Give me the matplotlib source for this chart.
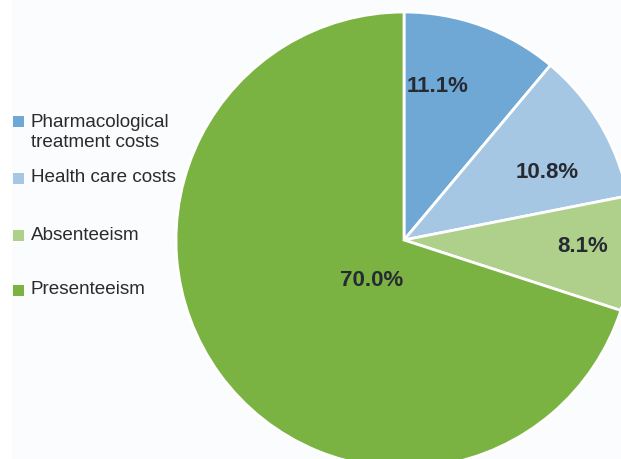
import matplotlib
matplotlib.use("Agg")
import matplotlib.pyplot as plt
from matplotlib.patches import Rectangle

categories = ["Pharmacological\ntreatment costs", "Health care costs", "Absenteeism", "Presenteeism"]
values = [11.1, 10.8, 8.1, 70.0]
pct_labels = ["11.1%", "10.8%", "8.1%", "70.0%"]
colors = ["#6fa7d5", "#a6c7e3", "#afd08a", "#7ab342"]

W, H = 621, 459
fig = plt.figure(figsize=(W / 100, H / 100), dpi=100)
fig.patch.set_facecolor("white")
ax = fig.add_axes([0, 0, 1, 1])

cx, cy, R = 404, H - 240, 228
wedges, _ = ax.pie(values, colors=colors, startangle=90, counterclock=False,
                   center=(cx, cy), radius=R,
                   wedgeprops=dict(edgecolor="white", linewidth=2))
ax.set_xlim(0, W)
ax.set_ylim(0, H)
ax.set_aspect("equal")
ax.axis("off")
# light background panel
ax.add_patch(Rectangle((12, 0), W - 12, H, facecolor="#fbfcfe", edgecolor="none", zorder=-5))

# percentage labels (pixel positions)
label_xy = [(438, 87), (547, 172), (583, 247), (372, 280)]
for txt, (x, y) in zip(pct_labels, label_xy):
    ax.text(x, H - y, txt, ha="center", va="center", fontsize=16,
            fontweight="bold", color="#262a33", family="Liberation Sans")

# legend drawn manually
leg_y = [121, 178, 235, 290]
for cat, col, y in zip(categories, colors, leg_y):
    ax.add_patch(Rectangle((13, H - y - 5.5), 11, 11, facecolor=col, edgecolor="none"))
    if "\n" in cat:
        ax.text(31, H - y + 7, cat, ha="left", va="top",
                fontsize=13.6, color="#2b2b2b", family="Liberation Sans",
                linespacing=1.22)
    else:
        ax.text(31, H - y, cat, ha="left", va="center",
                fontsize=13.6, color="#2b2b2b", family="Liberation Sans")

fig.savefig("out.png", dpi=100)
